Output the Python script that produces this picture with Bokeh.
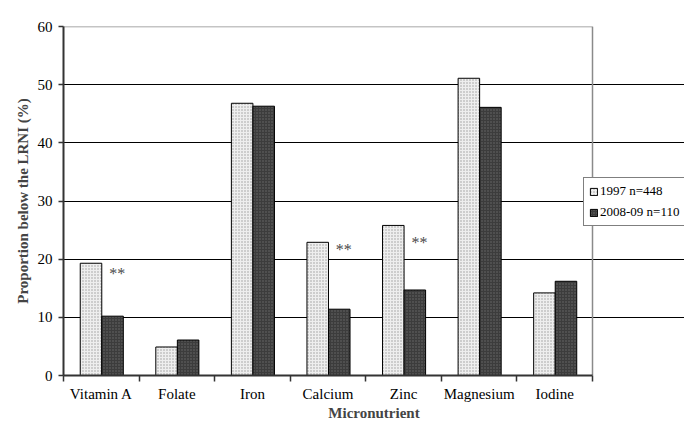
from bokeh.plotting import figure
from bokeh.models import (ColumnDataSource, FixedTicker, Legend, LegendItem, Range1d)
from bokeh.core.properties import value
from bokeh.embed import file_html
from bokeh.resources import INLINE

categories = ["Vitamin A", "Folate", "Iron", "Calcium", "Zinc", "Magnesium", "Iodine"]
series_1997 = [19.3, 4.9, 46.8, 22.9, 25.8, 51.1, 14.2]
series_2008 = [10.2, 6.1, 46.3, 11.4, 14.7, 46.1, 16.2]
series_names = ["1997 n=448", "2008-09 n=110"]
star_categories = ["Vitamin A", "Calcium", "Zinc"]
star_levels = [17.6, 21.6, 22.8]
y_ticks = [0, 10, 20, 30, 40, 50, 60]
y_max = 60

SERIF = "Liberation Serif"
W, H = 684, 423
LEFT, TOP, BOTTOM = 63, 26, 47
PLOT_W = 529            # pixel width of the category area
n = len(categories)
x_hi = n * (W - LEFT) / PLOT_W   # extra room on the right for the legend

idx = list(range(n))
src = ColumnDataSource(dict(
    x1=[i + 0.364 for i in idx],
    x2=[i + 0.649 for i in idx],
    v1=series_1997, v2=series_2008,
))

p = figure(width=W, height=H, output_backend="svg", toolbar_location=None,
           x_range=Range1d(0, x_hi), y_range=Range1d(0, y_max),
           min_border_left=LEFT, min_border_right=0, min_border_top=TOP,
           min_border_bottom=BOTTOM)
p.background_fill_color = "white"
p.border_fill_color = "white"
p.outline_line_color = None

# plot-area border (top and right), gray
p.line(x=[0, n, n], y=[y_max, y_max, 0], line_color="#8a8a8a", line_width=1.5)

r1 = p.vbar(x="x1", top="v1", width=0.285, source=src, fill_color="#eeeeee",
            line_color="black", line_width=1, hatch_pattern="dot",
            hatch_color="#9a9a9a", hatch_scale=3, hatch_weight=1)
r2 = p.vbar(x="x2", top="v2", width=0.285, source=src, fill_color="#3c3c3c",
            line_color="black", line_width=1, hatch_pattern="dot",
            hatch_color="#6a6a6a", hatch_scale=3, hatch_weight=1)

# significance stars
sx = [categories.index(c) + 0.71 for c in star_categories]
p.text(x=sx, y=star_levels, text=["**"] * len(sx), text_align="center",
       text_baseline="middle", text_font=value(SERIF), text_font_size="16px",
       text_color="#4a4a4a")

# grid
p.xgrid.grid_line_color = None
p.ygrid.ticker = FixedTicker(ticks=[10, 20, 30, 40, 50])
p.ygrid.grid_line_color = "black"
p.ygrid.grid_line_width = 1
p.ygrid.bounds = (0, n)
p.ygrid.level = "underlay"

# y axis
p.yaxis.ticker = FixedTicker(ticks=y_ticks)
p.yaxis.axis_line_color = "#333333"
p.yaxis.axis_line_width = 2
p.yaxis.major_tick_in = 0
p.yaxis.major_tick_out = 5
p.yaxis.major_tick_line_width = 1.5
p.yaxis.major_tick_line_color = "#333333"
p.yaxis.minor_tick_line_color = None
p.yaxis.major_label_standoff = 6
p.yaxis.major_label_text_font = SERIF
p.yaxis.major_label_text_font_size = "15px"
p.yaxis.major_label_text_color = "black"
p.yaxis.axis_label = "Proportion below the LRNI (%)"
p.yaxis.axis_label_text_font = SERIF
p.yaxis.axis_label_text_font_style = "bold"
p.yaxis.axis_label_text_font_size = "15px"
p.yaxis.axis_label_standoff = 4

# x axis
p.xaxis.bounds = (0, n)
p.xaxis.ticker = FixedTicker(ticks=[i + 0.5 for i in idx],
                             minor_ticks=list(range(n + 1)))
p.xaxis.major_label_overrides = {i + 0.5: c for i, c in zip(idx, categories)}
p.xaxis.major_tick_line_color = None
p.xaxis.major_tick_in = 0
p.xaxis.major_tick_out = 6
p.xaxis.minor_tick_in = 0
p.xaxis.minor_tick_out = 6
p.xaxis.minor_tick_line_color = "#333333"
p.xaxis.minor_tick_line_width = 1.5
p.xaxis.axis_line_color = "#333333"
p.xaxis.axis_line_width = 2
p.xaxis.major_label_standoff = 4
p.xaxis.major_label_text_font = SERIF
p.xaxis.major_label_text_font_size = "15px"
p.xaxis.major_label_text_color = "black"
p.xaxis.axis_label = "Micronutrient"
p.xaxis.axis_label_text_font = SERIF
p.xaxis.axis_label_text_font_style = "bold"
p.xaxis.axis_label_text_font_size = "15px"
p.xaxis.axis_label_standoff = 0

legend = Legend(items=[LegendItem(label=series_names[0], renderers=[r1]),
                       LegendItem(label=series_names[1], renderers=[r2])],
                location=(520, 149), orientation="vertical")
legend.label_text_font = SERIF
legend.label_text_font_size = "13px"
legend.label_text_color = "black"
legend.label_height = 14
legend.glyph_width = 9
legend.glyph_height = 9
legend.label_standoff = 2
legend.spacing = 5
legend.padding = 5
legend.margin = 0
legend.border_line_color = "black"
legend.border_line_width = 1.5
legend.background_fill_alpha = 1
p.add_layout(legend, "center")

open("out.html", "w").write(file_html(p, INLINE))
